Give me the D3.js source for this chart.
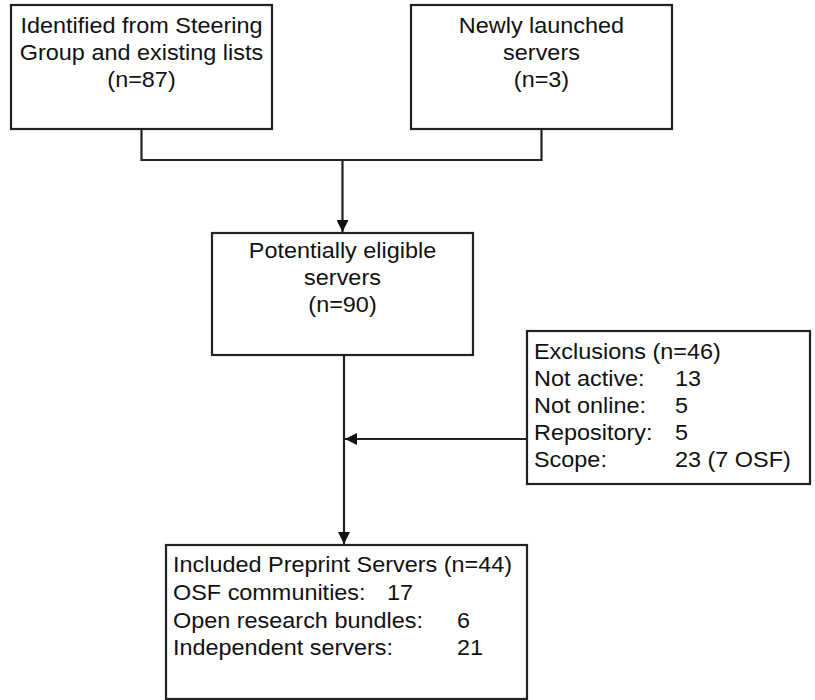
<!DOCTYPE html>
<html>
<head>
<meta charset="utf-8">
<script src="https://cdn.jsdelivr.net/npm/d3@7"></script>
<style>
  html, body { margin: 0; padding: 0; background: #fff; }
  svg { display: block; }
  text { font-family: "Liberation Sans", Arial, sans-serif; font-size: 21.5px; fill: #111; }
</style>
</head>
<body>
<svg id="chart" width="815" height="700"></svg>
<script>
// ---- data ----
const sourceLabels = [
  ["Identified from Steering", "Group and existing lists", "(n=87)"],
  ["Newly launched", "servers", "(n=3)"]
];
const eligibleLabel = ["Potentially eligible", "servers", "(n=90)"];
const exclusionTitle = "Exclusions (n=46)";
const exclusionCategories = ["Not active:", "Not online:", "Repository:", "Scope:"];
const exclusionValues = ["13", "5", "5", "23 (7 OSF)"];
const includedTitle = "Included Preprint Servers (n=44)";
const includedCategories = ["OSF communities:", "Open research bundles:", "Independent servers:"];
const includedValues = ["17", "6", "21"];

// ---- layout ----
const svg = d3.select("#chart");
const stroke = "#222";
const sw = 2.2;
const sx = 1.09; // horizontal stretch of lettering

const defs = svg.append("defs");
defs.append("marker")
  .attr("id", "arrow")
  .attr("viewBox", "0 0 12 12")
  .attr("refX", 12).attr("refY", 6)
  .attr("markerWidth", 12).attr("markerHeight", 12)
  .attr("markerUnits", "userSpaceOnUse")
  .attr("orient", "auto")
  .append("path").attr("d", "M0,0 L12,6 L0,12 Z").attr("fill", "#111");

const srcBoxes = [
  {x: 11, y: 5, w: 261, h: 124},
  {x: 411, y: 5, w: 261, h: 124}
];
const eligibleBox = {x: 212, y: 233, w: 261, h: 122};
const exclBox = {x: 527, y: 331, w: 283, h: 153};
const inclBox = {x: 166, y: 545, w: 361, h: 154};

function rect(b) {
  svg.append("rect").attr("x", b.x).attr("y", b.y).attr("width", b.w).attr("height", b.h)
    .attr("fill", "none").attr("stroke", stroke).attr("stroke-width", sw);
}
function place(sel, fx, fy) {
  sel.attr("transform", (d, j) => `translate(${fx(d, j)},${fy(d, j)}) scale(${sx},1)`);
}

// source boxes with centered text
srcBoxes.forEach((b, i) => {
  rect(b);
  const t = svg.append("g").selectAll("text").data(sourceLabels[i]).join("text")
    .attr("text-anchor", "middle").text(d => d);
  place(t, () => b.x + b.w / 2, (d, j) => 33 + j * 27);
});

// connector from source boxes
const joinY = 160;
const midX = eligibleBox.x + eligibleBox.w / 2;
const c1 = srcBoxes[0].x + srcBoxes[0].w / 2, c2 = srcBoxes[1].x + srcBoxes[1].w / 2;
svg.append("path")
  .attr("d", d3.line()([[c1, srcBoxes[0].y + srcBoxes[0].h], [c1, joinY], [c2, joinY], [c2, srcBoxes[1].y + srcBoxes[1].h]]))
  .attr("fill", "none").attr("stroke", stroke).attr("stroke-width", sw);
svg.append("line").attr("x1", midX).attr("y1", joinY).attr("x2", midX).attr("y2", eligibleBox.y - 1)
  .attr("stroke", stroke).attr("stroke-width", sw).attr("marker-end", "url(#arrow)");

// eligible box
rect(eligibleBox);
const et = svg.append("g").selectAll("text").data(eligibleLabel).join("text")
  .attr("text-anchor", "middle").text(d => d);
place(et, () => midX, (d, j) => 258 + j * 27);

// vertical line to included box
const downX = 344;
svg.append("line").attr("x1", downX).attr("y1", eligibleBox.y + eligibleBox.h).attr("x2", downX).attr("y2", inclBox.y - 1)
  .attr("stroke", stroke).attr("stroke-width", sw).attr("marker-end", "url(#arrow)");

// exclusion arrow
svg.append("line").attr("x1", exclBox.x).attr("y1", 439).attr("x2", downX + 1).attr("y2", 439)
  .attr("stroke", stroke).attr("stroke-width", sw).attr("marker-end", "url(#arrow)");

// exclusion box
rect(exclBox);
const exG = svg.append("g");
place(exG.append("text").datum(exclusionTitle).text(d => d), () => 534, () => 359);
place(exG.selectAll("text.cat").data(exclusionCategories).join("text").attr("class", "cat").text(d => d),
  () => 534, (d, j) => 386 + j * 27);
place(exG.selectAll("text.val").data(exclusionValues).join("text").attr("class", "val").text(d => d),
  () => 675, (d, j) => 386 + j * 27);

// included box
rect(inclBox);
const inG = svg.append("g");
place(inG.append("text").datum(includedTitle).text(d => d), () => 173, () => 572);
const valX = [387, 457, 457];
place(inG.selectAll("text.cat").data(includedCategories).join("text").attr("class", "cat").text(d => d),
  () => 173, (d, j) => 600 + j * 27.5);
place(inG.selectAll("text.val").data(includedValues).join("text").attr("class", "val").text(d => d),
  (d, j) => valX[j], (d, j) => 600 + j * 27.5);
</script>
</body>
</html>
